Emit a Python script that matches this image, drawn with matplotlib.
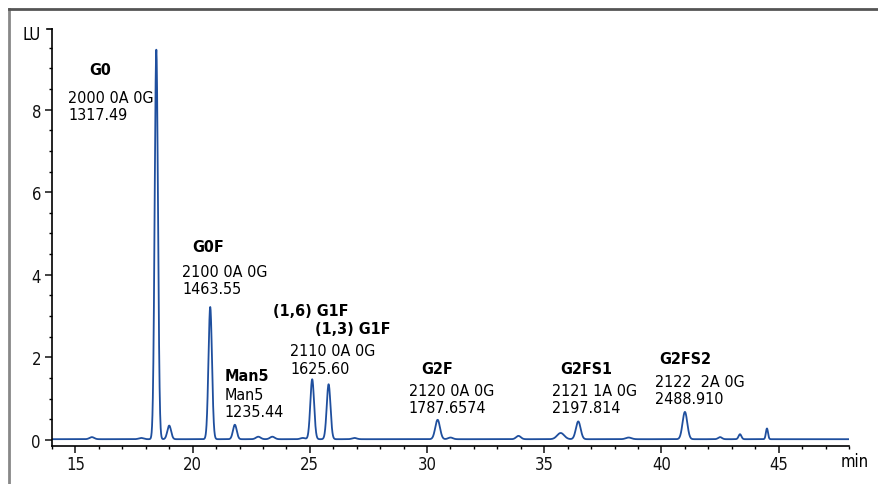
import numpy as np
import matplotlib.pyplot as plt
from matplotlib.lines import Line2D
from matplotlib.ticker import MultipleLocator

plt.rcParams['font.family'] = ['DejaVu Sans']
plt.rcParams['font.stretch'] = 'condensed'

# peak table: retention time (min), height (LU), width (sigma, min)
peak_rt = [15.7, 17.8, 18.45, 19.0, 20.75, 21.8, 22.8, 23.4, 24.7, 25.1, 25.8, 26.9,
           30.45, 31.0, 33.9, 35.7, 36.45, 38.6, 41.0, 42.5, 43.35, 44.5]
peak_h = [0.05, 0.03, 9.43, 0.33, 3.2, 0.35, 0.06, 0.06, 0.03, 1.45, 1.33, 0.03,
          0.47, 0.04, 0.08, 0.15, 0.43, 0.04, 0.66, 0.05, 0.12, 0.26]
peak_w = [0.1, 0.1, 0.07, 0.08, 0.075, 0.08, 0.1, 0.1, 0.1, 0.08, 0.08, 0.1,
          0.1, 0.1, 0.1, 0.15, 0.1, 0.12, 0.1, 0.08, 0.06, 0.045]
baseline = 0.02

# peak annotations: bold name, composition, mass
ann_name = ['G0', 'G0F', 'Man5', '(1,6) G1F', '(1,3) G1F', 'G2F', 'G2FS1', 'G2FS2']
ann_name_xy = [(16.05, 8.97, 'center'), (20.67, 4.69, 'center'), (21.35, 1.55, 'left'),
               (23.44, 3.14, 'left'), (25.24, 2.7, 'left'), (30.45, 1.74, 'center'),
               (35.67, 1.74, 'left'), (39.9, 1.98, 'left')]
ann_info = ['2000 0A 0G\n1317.49', '2100 0A 0G\n1463.55', 'Man5\n1235.44',
            '2110 0A 0G\n1625.60', '2120 0A 0G\n1787.6574', '2121 1A 0G\n2197.814',
            '2122  2A 0G\n2488.910']
ann_info_xy = [(14.68, 8.08), (19.56, 3.88), (21.35, 0.895), (24.17, 1.95),
               (29.21, 0.99), (35.32, 0.99), (39.73, 1.21)]

t = np.linspace(14.0, 48.0, 6000)
signal = np.full_like(t, baseline)
for rt, h, w in zip(peak_rt, peak_h, peak_w):
    signal += h * np.exp(-0.5 * ((t - rt) / w) ** 2)

fig = plt.figure(figsize=(8.79, 4.85), dpi=100)
ax = fig.add_axes([52 / 879, 1 - 447 / 485, (849 - 52) / 879, (447 - 30) / 485])

ax.plot(t, signal, color='#1f4f9e', lw=1.3)

ax.set_xlim(14.0, 48.0)
ax.set_ylim(-0.145, 9.95)
ax.xaxis.set_major_locator(MultipleLocator(5))
ax.xaxis.set_minor_locator(MultipleLocator(1))
ax.yaxis.set_major_locator(MultipleLocator(2))
ax.yaxis.set_minor_locator(MultipleLocator(0.5))
ax.tick_params(which='major', direction='out', length=5, width=1.1, labelsize=12, colors='#111111')
ax.tick_params(axis='x', which='major', pad=1.5)
ax.tick_params(axis='y', which='major', pad=3)
ax.tick_params(which='minor', direction='out', length=2.5, width=1.0)
ax.spines['top'].set_visible(False)
ax.spines['right'].set_visible(False)
ax.spines['left'].set_linewidth(1.2)
ax.spines['bottom'].set_linewidth(1.2)

# small cap at the top of the y axis
ax.plot([-0.006, 0], [1, 1], transform=ax.transAxes, color='black', lw=1.2, clip_on=False)

ax.text(-0.014, 0.988, 'LU', transform=ax.transAxes, ha='right', va='center', fontsize=12)
ax.text(0.989, -0.036, 'min', transform=ax.transAxes, ha='left', va='center', fontsize=12)

for name, (x, y, ha) in zip(ann_name, ann_name_xy):
    ax.text(x, y, name, ha=ha, va='center', fontsize=11.5, fontweight='bold')
for info, (x, y) in zip(ann_info, ann_info_xy):
    ax.text(x, y, info, ha='left', va='center', fontsize=11.5, linespacing=1.18)

# grey frame of the original figure
fig.add_artist(Line2D([9 / 879, 9 / 879], [0, 1 - 10 / 485], transform=fig.transFigure, color='#888888', lw=2))
fig.add_artist(Line2D([9 / 879, 1], [1 - 10 / 485, 1 - 10 / 485], transform=fig.transFigure, color='#555555', lw=2))

fig.savefig('out.png', dpi=100)
